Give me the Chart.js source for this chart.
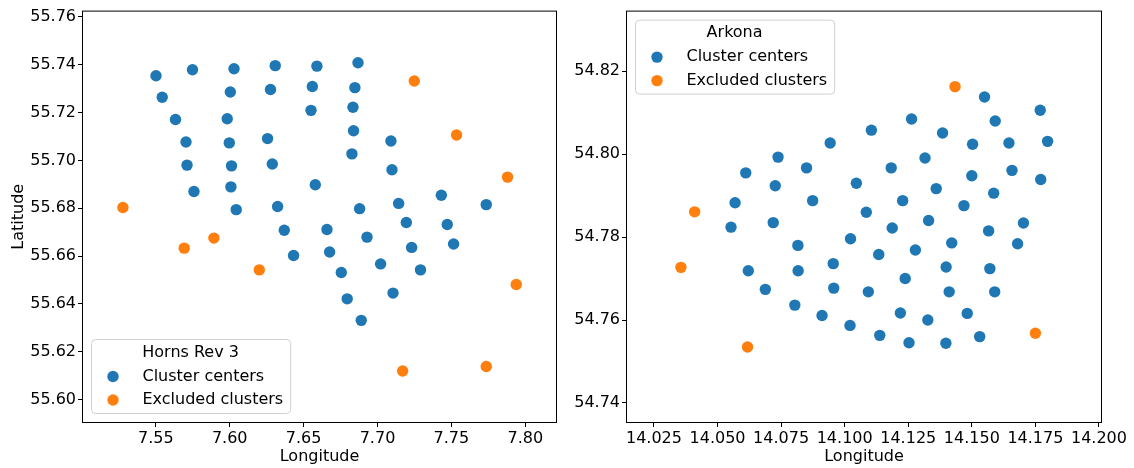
<!DOCTYPE html>
<html>
<head>
<meta charset="utf-8">
<script src="https://cdn.jsdelivr.net/npm/chart.js@4.4.1/dist/chart.umd.min.js"></script>
<style>
  html, body { margin: 0; padding: 0; background: #fff; }
  #wrap { position: relative; width: 1134px; height: 468px; }
  canvas { position: absolute; top: 0; }
</style>
</head>
<body>
<div id="wrap">
  <canvas id="horns" width="562" height="468" style="left:0"></canvas>
  <canvas id="arkona" width="572" height="468" style="left:562px"></canvas>
</div>
<script>
// Horns Rev 3 cluster centers
const hornsLon = [7.5501, 7.5748, 7.6029, 7.6308, 7.6590, 7.6868, 7.5543, 7.6004, 7.6276, 7.6559,
  7.6847, 7.5633, 7.5983, 7.6550, 7.6834, 7.5704, 7.5997, 7.6256, 7.6838, 7.7091,
  7.5711, 7.6012, 7.6288, 7.6827, 7.7098, 7.5758, 7.6008, 7.6579, 7.6044, 7.6324,
  7.6879, 7.7143, 7.7432, 7.7736, 7.6369, 7.6432, 7.6658, 7.6929, 7.7195, 7.7472,
  7.6676, 7.7231, 7.7515, 7.6755, 7.7021, 7.7291, 7.6795, 7.7105, 7.6890];
const hornsLat = [55.7354, 55.7379, 55.7383, 55.7396, 55.7394, 55.7408, 55.7264, 55.7286, 55.7296, 55.7309,
  55.7304, 55.7171, 55.7174, 55.7209, 55.7222, 55.7077, 55.7073, 55.7091, 55.7124, 55.7081,
  55.6980, 55.6977, 55.6985, 55.7027, 55.6961, 55.6870, 55.6889, 55.6898, 55.6794, 55.6807,
  55.6798, 55.6820, 55.6854, 55.6815, 55.6708, 55.6602, 55.6711, 55.6679, 55.6740, 55.6732,
  55.6617, 55.6636, 55.6650, 55.6531, 55.6567, 55.6542, 55.6421, 55.6445, 55.6331];
const hornsExLon = [7.5277, 7.7249, 7.7535, 7.7880, 7.5893, 7.5692, 7.6200, 7.7939, 7.7170, 7.7736];
const hornsExLat = [55.6803, 55.7332, 55.7106, 55.6930, 55.6675, 55.6633, 55.6542, 55.6481, 55.6119, 55.6138];

// Arkona cluster centers
const arkonaLon = [14.0943, 14.0738, 14.0850, 14.0611, 14.0727, 14.1046, 14.0569, 14.0874, 14.0719, 14.1085,
  14.1105, 14.1550, 14.1769, 14.1263, 14.1592, 14.1385, 14.1503, 14.1646, 14.1798, 14.1316,
  14.1183, 14.1500, 14.1658, 14.1771, 14.1360, 14.1228, 14.1586, 14.1469, 14.1330, 14.1703,
  14.0553, 14.0816, 14.1023, 14.0621, 14.0817, 14.0955, 14.0688, 14.0957, 14.1093, 14.0804,
  14.0911, 14.1021, 14.1187, 14.1566, 14.1134, 14.1278, 14.1421, 14.1680, 14.1399, 14.1571,
  14.1238, 14.1411, 14.1590, 14.1219, 14.1327, 14.1482, 14.1138, 14.1253, 14.1398, 14.1531];
const arkonaLat = [54.8027, 54.7993, 54.7967, 54.7955, 54.7924, 54.7930, 54.7883, 54.7888, 54.7835, 54.7860,
  54.8058, 54.8138, 54.8106, 54.8085, 54.8080, 54.8051, 54.8024, 54.8027, 54.8031, 54.7991,
  54.7967, 54.7948, 54.7961, 54.7939, 54.7917, 54.7888, 54.7906, 54.7876, 54.7840, 54.7834,
  54.7824, 54.7780, 54.7796, 54.7719, 54.7719, 54.7736, 54.7674, 54.7677, 54.7668, 54.7636,
  54.7611, 54.7587, 54.7822, 54.7815, 54.7758, 54.7769, 54.7786, 54.7784, 54.7728, 54.7724,
  54.7700, 54.7668, 54.7668, 54.7617, 54.7600, 54.7616, 54.7563, 54.7545, 54.7544, 54.7560];
const arkonaExLon = [14.1434, 14.0410, 14.0356, 14.0618, 14.1750];
const arkonaExLat = [54.8163, 54.7861, 54.7727, 54.7535, 54.7568];

// tick labels
const hornsXTicks = [7.55, 7.60, 7.65, 7.70, 7.75, 7.80];
const hornsYTicks = [55.60, 55.62, 55.64, 55.66, 55.68, 55.70, 55.72, 55.74, 55.76];
const arkonaXTicks = [14.025, 14.050, 14.075, 14.100, 14.125, 14.150, 14.175, 14.200];
const arkonaYTicks = [54.74, 54.76, 54.78, 54.80, 54.82];

const BLUE = '#1f77b4';
const ORANGE = '#ff7f0e';
const FONT = { family: 'DejaVu Sans', size: 16 };
const FONT_CSS = '16px "DejaVu Sans"';

const toPoints = (xs, ys) => xs.map((x, i) => ({ x, y: ys[i] }));

const frame = {
  id: 'frame',
  afterDraw(chart) {
    const { ctx, chartArea: a } = chart;
    ctx.save();
    ctx.strokeStyle = '#000';
    ctx.lineWidth = 1;
    ctx.strokeRect(a.left - 0.5, a.top - 0.5, a.right - a.left + 1, a.bottom - a.top + 1);
    ctx.restore();
  },
};

// matplotlib style legend box with a title
const boxLegend = {
  id: 'boxLegend',
  afterDatasetsDraw(chart, args, opts) {
    const { ctx, chartArea: a } = chart;
    const sets = chart.data.datasets;
    ctx.save();
    ctx.font = FONT_CSS;
    const textW = Math.max(...sets.map((d) => ctx.measureText(d.label).width));
    const w = 51.5 + textW + 7;
    const h = 74;
    const x = a.left + 8;
    const y = opts.corner === 'top' ? a.top + 8 : a.bottom - 9 - h;
    ctx.beginPath();
    ctx.roundRect(x + 0.5, y + 0.5, w, h, 4);
    ctx.fillStyle = 'rgba(255,255,255,0.8)';
    ctx.fill();
    ctx.strokeStyle = '#d0d0d0';
    ctx.lineWidth = 1;
    ctx.stroke();
    ctx.fillStyle = '#000';
    ctx.textBaseline = 'middle';
    ctx.textAlign = 'center';
    ctx.fillText(opts.title, x + w / 2, y + 13.5);
    ctx.textAlign = 'left';
    sets.forEach((d, i) => {
      const cy = y + 37.5 + i * 23.5;
      ctx.beginPath();
      ctx.arc(x + 22, cy, 5.7, 0, Math.PI * 2);
      ctx.fillStyle = d.backgroundColor;
      ctx.fill();
      ctx.fillStyle = '#000';
      ctx.fillText(d.label, x + 51.5, cy);
    });
    ctx.restore();
  },
};

function makeChart(id, cfg) {
  const ticksAt = (vals) => (scale) => {
    scale.ticks = vals.map((v) => ({ value: v }));
  };
  const gridOpts = { drawOnChartArea: false, drawTicks: true, tickLength: 5, tickColor: '#000' };
  return new Chart(document.getElementById(id), {
    type: 'scatter',
    data: {
      datasets: [
        {
          label: 'Cluster centers',
          data: toPoints(cfg.lon, cfg.lat),
          backgroundColor: BLUE,
          borderWidth: 0,
          pointRadius: 5.7,
        },
        {
          label: 'Excluded clusters',
          data: toPoints(cfg.exLon, cfg.exLat),
          backgroundColor: ORANGE,
          borderWidth: 0,
          pointRadius: 5.7,
        },
      ],
    },
    options: {
      responsive: false,
      animation: false,
      events: [],
      layout: { padding: cfg.padding },
      plugins: {
        legend: { display: false },
        tooltip: { enabled: false },
        boxLegend: { title: cfg.title, corner: cfg.corner },
      },
      scales: {
        x: {
          type: 'linear',
          min: cfg.xRange[0],
          max: cfg.xRange[1],
          afterBuildTicks: ticksAt(cfg.xTicks),
          afterFit: (s) => { s.height = 46; },
          ticks: {
            callback: (v) => v.toFixed(cfg.xDigits),
            font: FONT,
            color: '#000',
            padding: 2,
            maxRotation: 0,
            autoSkip: false,
          },
          grid: gridOpts,
          border: { display: false },
          title: { display: true, text: 'Longitude', font: FONT, color: '#000', padding: { top: 0, bottom: 2 } },
        },
        y: {
          type: 'linear',
          min: cfg.yRange[0],
          max: cfg.yRange[1],
          afterBuildTicks: ticksAt(cfg.yTicks),
          afterFit: (s) => { s.width = cfg.yWidth; },
          ticks: {
            callback: (v) => v.toFixed(2),
            font: FONT,
            color: '#000',
            padding: 2,
            autoSkip: false,
          },
          grid: gridOpts,
          border: { display: false },
          title: { display: !!cfg.yTitle, text: cfg.yTitle || '', font: FONT, color: '#000', padding: { top: 9 } },
        },
      },
    },
    plugins: [frame, boxLegend],
  });
}

makeChart('horns', {
  lon: hornsLon, lat: hornsLat, exLon: hornsExLon, exLat: hornsExLat,
  xTicks: hornsXTicks, yTicks: hornsYTicks, xDigits: 2,
  xRange: [7.5007, 7.8208], yRange: [55.5906, 55.7622],
  title: 'Horns Rev 3', corner: 'bottom', yTitle: 'Latitude', yWidth: 83,
  padding: { top: 9, right: 6, bottom: 0, left: 0 },
});

makeChart('arkona', {
  lon: arkonaLon, lat: arkonaLat, exLon: arkonaExLon, exLat: arkonaExLat,
  xTicks: arkonaXTicks, yTicks: arkonaYTicks, xDigits: 3,
  xRange: [14.0144, 14.2008], yRange: [54.7354, 54.8344],
  title: 'Arkona', corner: 'top', yTitle: '', yWidth: 65,
  padding: { top: 9, right: 33, bottom: 0, left: 0 },
});
</script>
</body>
</html>
